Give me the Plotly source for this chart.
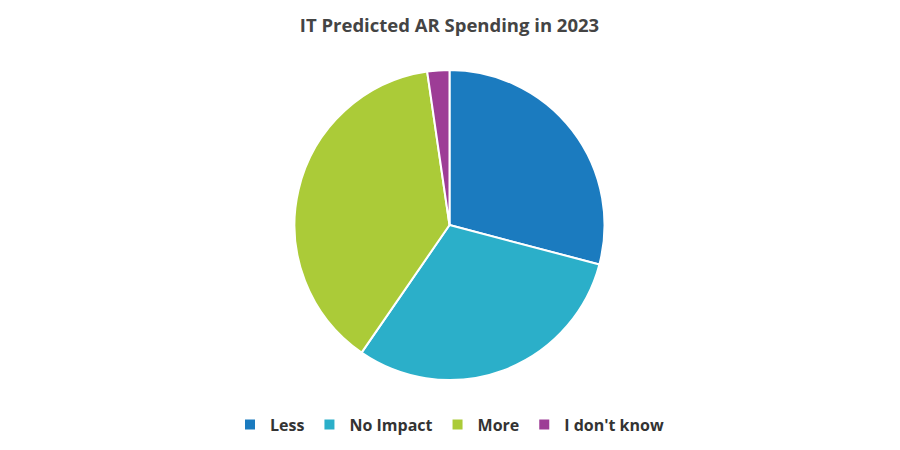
import plotly.graph_objects as go

# Survey answers (percent of respondents)
labels = ["Less", "No Impact", "More", "I don't know"]
values = [29.1, 30.5, 38.1, 2.3]
colors = ["#1b7bbf", "#2bafc9", "#abcb38", "#9d3d96"]

fig = go.Figure(
    go.Pie(
        labels=labels,
        values=values,
        sort=False,
        direction="clockwise",
        rotation=0,
        marker=dict(colors=colors, line=dict(color="white", width=2)),
        textinfo="none",
        hoverinfo="label+percent",
    )
)

# the page body has an 8px margin, so margins below are offset to compensate
fig.update_layout(
    width=900,
    height=450,
    title=dict(
        text="<b>IT Predicted AR Spending in 2023</b>",
        x=0.5,
        xanchor="center",
        xref="paper",
        y=0.962,
        yanchor="middle",
        font=dict(family="Open Sans", size=18.5, color="#444444"),
    ),
    legend=dict(
        orientation="h",
        x=0.5,
        xanchor="center",
        y=-0.089,
        yanchor="top",
        font=dict(family="Open Sans", size=16, color="#333333", weight="bold"),
        itemclick=False,
    ),
    margin=dict(l=0, r=17, t=62, b=78),
    paper_bgcolor="white",
    plot_bgcolor="white",
)

fig.write_html("out.html")
